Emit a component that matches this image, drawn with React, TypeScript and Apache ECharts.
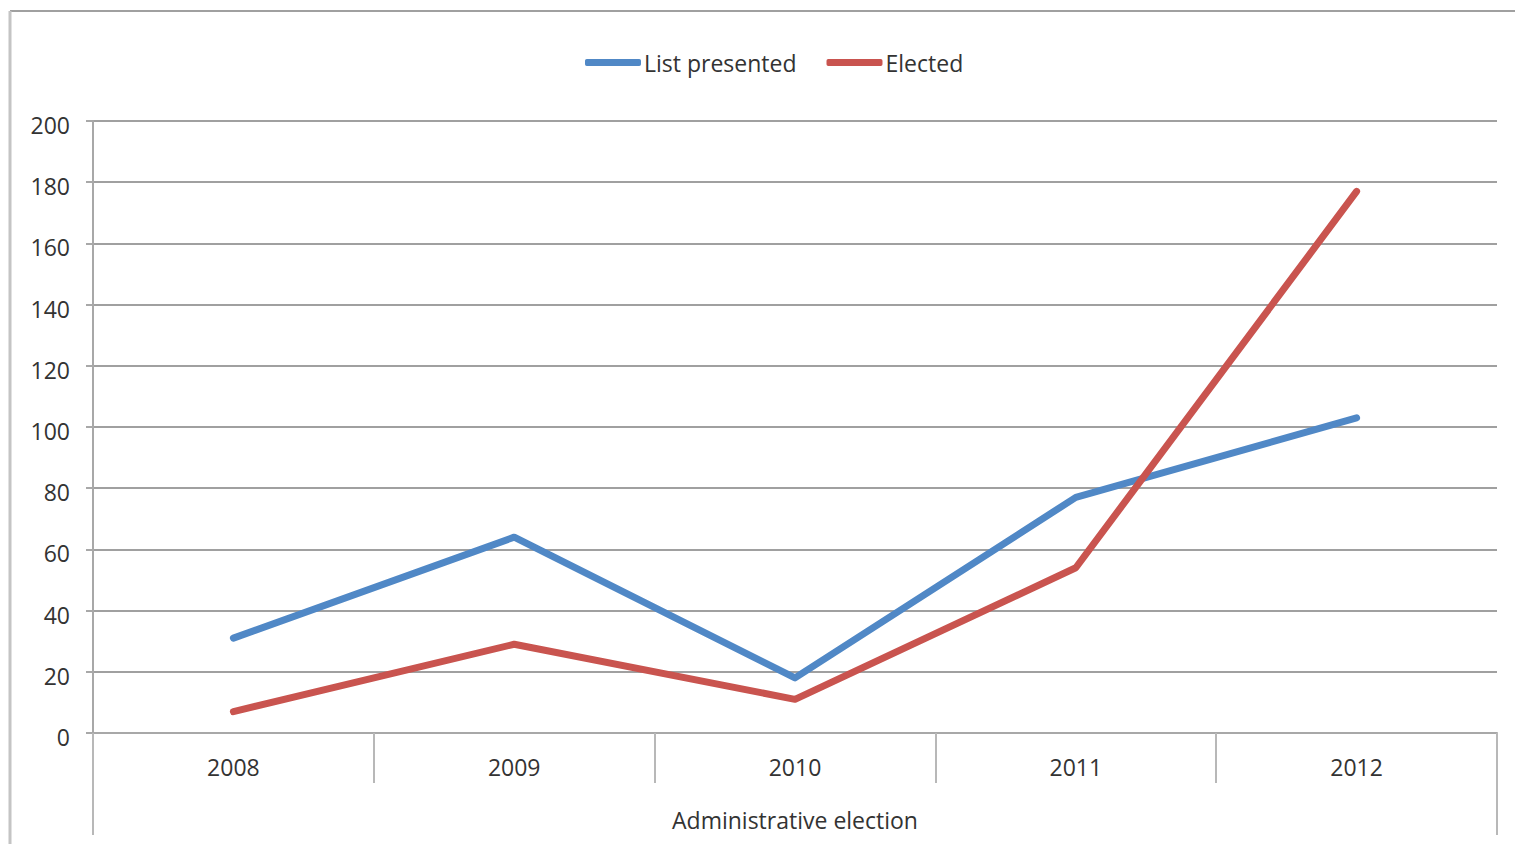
import React, { useEffect, useRef } from "react";
import * as echarts from "echarts";

const categories = ["2008", "2009", "2010", "2011", "2012"];
const listPresented = [31, 64, 18, 77, 103];
const elected = [7, 29, 11, 54, 177];
const seriesNames = ["List presented", "Elected"];
const axisTitle = "Administrative election";

const FONT = "'Open Sans', 'Liberation Sans', sans-serif";
const GRID = { left: 93, right: 18, top: 121, bottom: 111 };

export default function App() {
  const ref = useRef<HTMLDivElement>(null);
  useEffect(() => {
    if (!ref.current) return;
    const chart = echarts.init(ref.current, null, { renderer: "svg" });
    const W = 1515;
    const H = 844;
    const x0 = GRID.left;
    const x1 = W - GRID.right;
    const yAxis0 = H - GRID.bottom;
    chart.setOption({
      animation: false,
      backgroundColor: "#ffffff",
      textStyle: { fontFamily: FONT },
      legend: {
        top: 46,
        left: 580,
        itemWidth: 56,
        itemHeight: 7,
        itemGap: 30,
        icon: "roundRect",
        textStyle: { fontSize: 23, color: "#333", fontFamily: FONT, padding: [0, 0, 0, -2] },
        data: seriesNames,
      },
      grid: { left: GRID.left, right: GRID.right, top: GRID.top, bottom: GRID.bottom, containLabel: false },
      xAxis: {
        type: "category",
        data: categories,
        boundaryGap: true,
        name: axisTitle,
        nameLocation: "middle",
        nameGap: 75,
        nameTextStyle: { fontSize: 23, color: "#333", fontFamily: FONT },
        axisLine: { show: true, lineStyle: { color: "#a8a8a8", width: 2 } },
        axisTick: { show: true, length: 50, lineStyle: { color: "#b8b8b8", width: 2 } },
        axisLabel: { fontSize: 23, color: "#333", margin: 22, fontFamily: FONT },
        splitLine: { show: false },
      },
      yAxis: {
        type: "value",
        min: 0,
        max: 200,
        interval: 20,
        axisLine: { show: true, lineStyle: { color: "#a8a8a8", width: 2 } },
        axisTick: { show: true, length: 7, lineStyle: { color: "#a8a8a8", width: 2 } },
        axisLabel: {
          fontSize: 23,
          color: "#333",
          margin: 23,
          fontFamily: FONT,
          formatter: "{v|{value}}",
          rich: { v: { fontSize: 23, color: "#333", fontFamily: FONT, padding: [8, 0, 0, 0] } },
        },
        splitLine: { show: true, lineStyle: { color: "#a0a0a0", width: 2 } },
      },
      series: [
        {
          name: seriesNames[0],
          type: "line",
          data: listPresented,
          symbol: "none",
          color: "#5088c6",
          lineStyle: { width: 7, color: "#5088c6", cap: "round", join: "round" },
        },
        {
          name: seriesNames[1],
          type: "line",
          data: elected,
          symbol: "none",
          color: "#c9544f",
          lineStyle: { width: 7, color: "#c9544f", cap: "round", join: "round" },
        },
      ],
      graphic: [
        {
          type: "line",
          shape: { x1: 10, y1: 11, x2: W, y2: 11 },
          style: { stroke: "#a0a0a0", lineWidth: 2 },
        },
        {
          type: "line",
          shape: { x1: 10, y1: 11, x2: 10, y2: H },
          style: { stroke: "#c4c4c4", lineWidth: 3 },
        },
        {
          type: "line",
          shape: { x1: x0, y1: yAxis0, x2: x0, y2: 835 },
          style: { stroke: "#b8b8b8", lineWidth: 2 },
        },
        {
          type: "line",
          shape: { x1: x1, y1: yAxis0, x2: x1, y2: 835 },
          style: { stroke: "#b8b8b8", lineWidth: 2 },
        },
      ],
    });
    return () => chart.dispose();
  }, []);
  return (
    <div
      ref={ref}
      style={{ position: "fixed", left: 0, top: 0, width: 1515, height: 844 }}
    />
  );
}
